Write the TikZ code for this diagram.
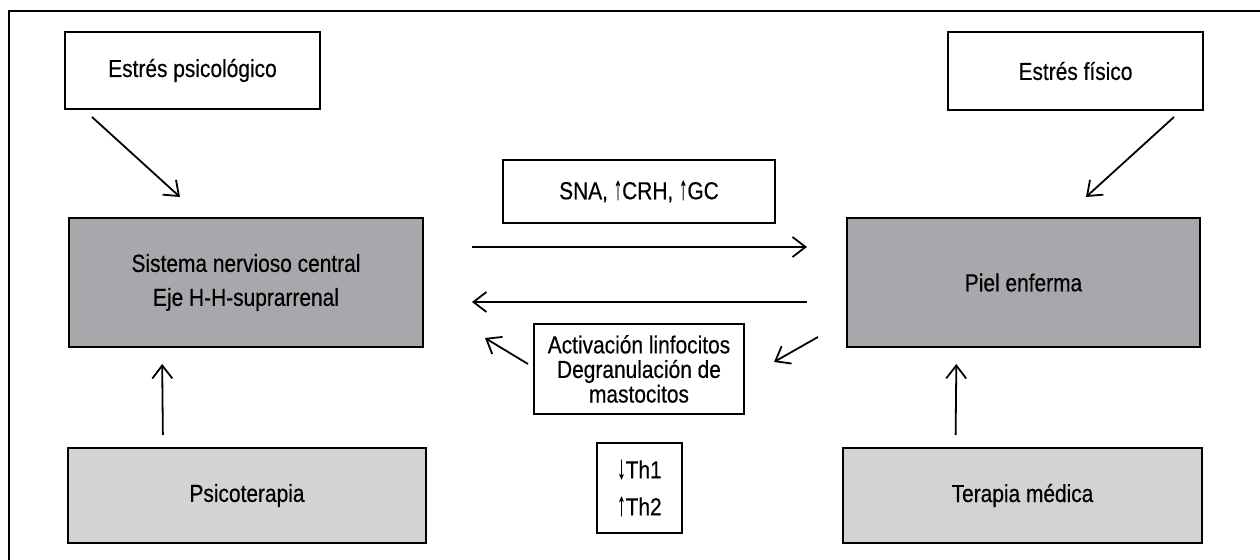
\documentclass[tikz,border=0pt]{standalone}
\usepackage{fontspec}
\setmainfont{Liberation Sans}[FakeStretch=0.85,FakeBold=0.4]
\usetikzlibrary{arrows.meta,positioning,calc}
\definecolor{grisosc}{HTML}{A7A8AB}
\definecolor{grisclr}{HTML}{D2D3D5}
\newcommand{\sube}{\scalebox{0.8}[1.35]{↑}}
\newcommand{\baja}{\scalebox{0.8}[1.35]{↓}}

\begin{document}
\begin{tikzpicture}[x=0.5pt,y=-0.5pt,
  caja/.style={draw, line width=1pt, align=center, inner sep=0pt,
    font=\fontsize{12.3}{12.3}\selectfont},
  flecha/.style={line width=0.9pt, -{Straight Barb[length=6.5pt,width=10pt]}}]

  \useasboundingbox (0,0) rectangle (1260,560);
  \draw[line width=1pt] (9,560) -- (9,11) -- (1260,11);

  % estres
  \node[caja, minimum width=127.5pt, minimum height=38.5pt] (psi) at (192.5,70.5) {Estrés psicológico};
  \node[caja, minimum width=127.5pt, minimum height=39pt] (fis) at (1075.5,71) {Estrés físico};

  % cajas grandes
  \node[caja, fill=grisosc, minimum width=177pt, minimum height=64.5pt] (snc) at (246,282.5)
    {Sistema nervioso central\\[4.7pt] Eje H-H-suprarrenal};
  \node[caja, fill=grisosc, minimum width=176.5pt, minimum height=64.5pt] (piel) at (1023.5,282.5) {Piel enferma};
  \node[caja, fill=grisclr, minimum width=179pt, minimum height=47.5pt] (psico) at (247,495.5) {Psicoterapia};
  \node[caja, fill=grisclr, minimum width=179.5pt, minimum height=47.5pt] (tera) at (1022.5,495.5) {Terapia médica};

  % centro
  \node[caja, minimum width=136pt, minimum height=31.5pt] (sna) at (639,191.5) {SNA, \sube CRH, \sube GC};
  \node[caja, minimum width=105pt, minimum height=45pt] (act) at (639,369)
    {Activación linfocitos\\ Degranulación de\\ mastocitos};
  \node[caja, minimum width=42.5pt, minimum height=45pt] (th) at (639.5,488) {\baja Th1\\[6.2pt] \sube Th2};

  \coordinate (psiout) at (92,117);
  \coordinate (sncin) at (180,197);
  \coordinate (fisout) at (1174,117);
  \coordinate (pielin) at (1086,197);
  \coordinate (actin) at (774,362);
  \coordinate (pielout) at (818,337);
  \coordinate (actout) at (528,364);
  \coordinate (sncin2) at (485,338);

  \draw[flecha] (psiout) -- (sncin);
  \draw[flecha] (fisout) -- (pielin);
  \draw[flecha, shorten <=6pt, shorten >=8pt] ([xshift=-42pt]psico.north) -- ([xshift=-42pt]snc.south);
  \draw[flecha, shorten <=6pt, shorten >=8pt] ([xshift=-33.5pt]tera.north) -- ([xshift=-33.5pt]piel.south);
  \draw[flecha, shorten <=24pt, shorten >=19.5pt] ([yshift=17.75pt]snc.east) -- ([yshift=17.75pt]piel.west);
  \draw[flecha, shorten <=19.5pt, shorten >=24pt] ([yshift=-9.75pt]piel.west) -- ([yshift=-9.75pt]snc.east);
  \draw[flecha] (pielout) -- (actin);
  \draw[flecha] (actout) -- (sncin2);

\end{tikzpicture}
\end{document}
